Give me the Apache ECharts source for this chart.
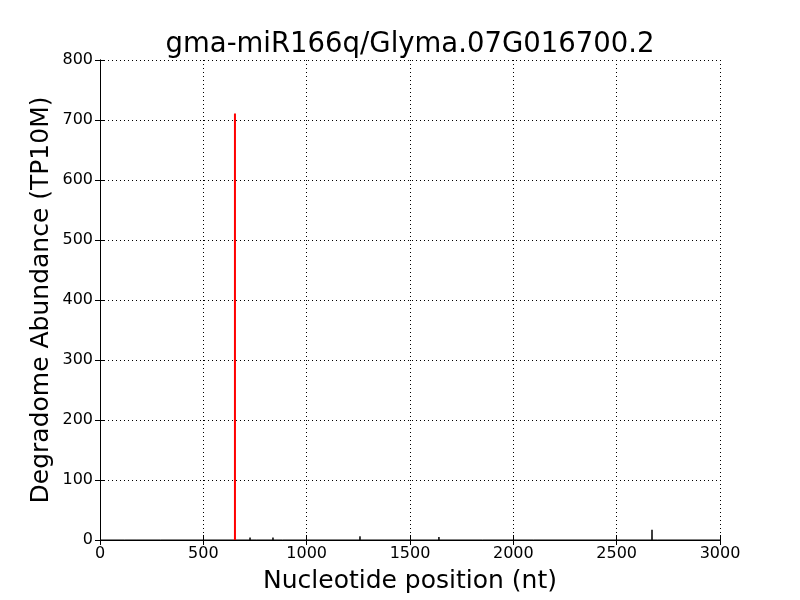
<!DOCTYPE html>
<html><head><meta charset="utf-8">
<script src="https://cdn.jsdelivr.net/npm/echarts@6/dist/echarts.min.js"></script>
<style>html,body{margin:0;padding:0;background:#fff}#c{width:800px;height:600px}</style>
</head><body><div id="c"></div>
<script>
const titleText = "gma-miR166q/Glyma.07G016700.2";
const xTicks = [0, 500, 1000, 1500, 2000, 2500, 3000];
const yTicks = [0, 100, 200, 300, 400, 500, 600, 700, 800];
// background degradome peaks (position, abundance)
const peakPositions = [121, 180, 295, 726, 760, 837, 885, 1258, 1380, 1640, 1853, 2100, 2671, 2700];
const peakValues    = [1,   1,   1,   4,   1,   4,   3,   6,   1,   5,   2,   1,   17,  2];
// miRNA cleavage site
const sitePosition = [653];
const siteValue = [711];

const bgData = [[0,0]];
peakPositions.forEach((p,i)=>{ bgData.push([p-1,0],[p,peakValues[i]],[p+1,0]); });
bgData.push([3000,0]);
const siteData = [[sitePosition[0],0],[sitePosition[0],siteValue[0]]];

const font = "DejaVu Sans";
const chart = echarts.init(document.getElementById('c'));
const gridLine = {show:true, lineStyle:{color:'#000', type:[1,3], width:1}};
chart.setOption({
  animation:false,
  title:{text:titleText, left:405, textAlign:'center', top:26, textStyle:{fontFamily:font, fontSize:27.5, fontWeight:'normal', color:'#000'}},
  grid:{left:100, right:80, top:60, bottom:60},
  xAxis:[{
    type:'value', min:0, max:3000, interval:500,
    name:'Nucleotide position (nt)', nameLocation:'middle', nameGap:29,
    nameTextStyle:{fontFamily:font, fontSize:25, color:'#000'},
    axisLine:{show:true, lineStyle:{color:'#000', width:1}},
    axisTick:{show:true, inside:true, length:5, lineStyle:{color:'#000'}},
    axisLabel:{fontFamily:font, fontSize:16, color:'#000', margin:6, formatter:v=>String(v)},
    splitLine:gridLine
  },{
    type:'value', min:0, max:3000, interval:500, position:'top',
    axisLine:{show:true, lineStyle:{color:'#000', width:1}},
    axisTick:{show:true, inside:true, length:5, lineStyle:{color:'#000'}},
    axisLabel:{show:false}, splitLine:{show:false}
  }],
  yAxis:[{
    type:'value', min:0, max:800, interval:100,
    name:'Degradome Abundance (TP10M)', nameLocation:'middle', nameGap:46, nameMoveOverlap:false,
    nameTextStyle:{fontFamily:font, fontSize:25, color:'#000'},
    axisLine:{show:true, lineStyle:{color:'#000', width:1}},
    axisTick:{show:true, inside:true, length:5, lineStyle:{color:'#000'}},
    axisLabel:{fontFamily:font, fontSize:16, color:'#000', margin:7, formatter:v=>String(v)},
    splitLine:gridLine
  },{
    type:'value', min:0, max:800, interval:100, position:'right',
    axisLine:{show:true, lineStyle:{color:'#000', width:1}},
    axisTick:{show:true, inside:true, length:5, lineStyle:{color:'#000'}},
    axisLabel:{show:false}, splitLine:{show:false}
  }],
  series:[{
    type:'line', data:bgData, showSymbol:false, lineStyle:{color:'#000', width:1}, z:2
  },{
    type:'line', data:siteData, showSymbol:false, lineStyle:{color:'#ff0000', width:2}, z:3
  }]
});
</script></body></html>
